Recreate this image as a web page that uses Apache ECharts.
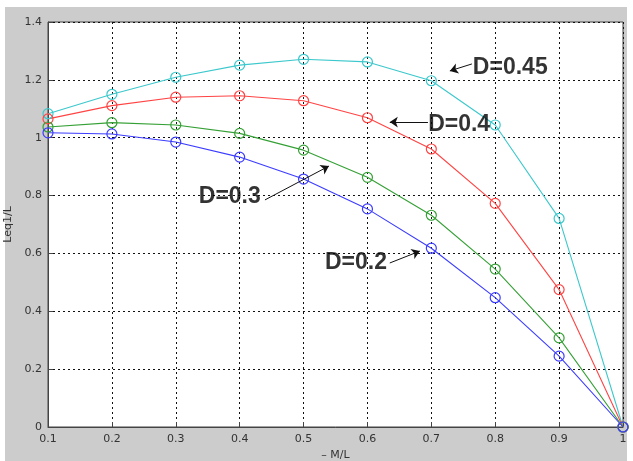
<!DOCTYPE html>
<html>
<head>
<meta charset="utf-8">
<script src="https://cdn.jsdelivr.net/npm/echarts@6/dist/echarts.min.js"></script>
<style>
html,body{margin:0;padding:0;background:#fff;}
#bg{position:absolute;left:5px;top:7px;width:622px;height:454px;background:#cccccc;}
#chart{position:absolute;left:0;top:0;width:633px;height:461px;}
</style>
</head>
<body>
<div id="bg"></div>
<div id="chart"></div>
<script>
const xValues = [0.1, 0.2, 0.3, 0.4, 0.5, 0.6, 0.7, 0.8, 0.9, 1.0];
const d045 = [1.083, 1.150, 1.209, 1.251, 1.271, 1.262, 1.197, 1.044, 0.721, 0.0];
const d040 = [1.065, 1.111, 1.140, 1.145, 1.128, 1.069, 0.961, 0.773, 0.475, 0.0];
const d030 = [1.037, 1.052, 1.044, 1.015, 0.957, 0.863, 0.732, 0.546, 0.308, 0.0];
const d020 = [1.017, 1.013, 0.985, 0.933, 0.857, 0.754, 0.618, 0.447, 0.245, 0.0];
const seriesNames = ['D=0.45', 'D=0.4', 'D=0.3', 'D=0.2'];
const seriesColors = ['#3cc8cc', '#ff4444', '#35a035', '#3c3cff'];
const yTickLabels = ['0', '0.2', '0.4', '0.6', '0.8', '1', '1.2', '1.4'];

// annotation text anchors (data space) and arrows (data space)
const labelPos = [[0.765, 1.241], [0.695, 1.044], [0.336, 0.795], [0.5335, 0.567]];
const arrows = [
  [[0.7635, 1.255], [0.729, 1.231]],
  [[0.6947, 1.054], [0.635, 1.054]],
  [[0.4396, 0.785], [0.5397, 0.902]],
  [[0.635, 0.567], [0.682, 0.608]]
];

const allData = [d045, d040, d030, d020];
const lineSeries = allData.map((arr, i) => ({
  name: seriesNames[i],
  type: 'line',
  data: xValues.map((x, j) => [x, arr[j]]),
  symbol: 'circle',
  symbolSize: 10,
  lineStyle: { color: seriesColors[i], width: 1.1 },
  itemStyle: { color: 'rgba(0,0,0,0)', borderColor: seriesColors[i], borderWidth: 1.2 },
  emphasis: { disabled: true },
  z: 3
}));

const annoSeries = {
  type: 'scatter',
  data: labelPos.map((p, i) => ({ value: p, name: seriesNames[i] })),
  symbolSize: 0,
  silent: true,
  label: {
    show: true,
    position: 'right',
    distance: 0,
    formatter: p => p.name,
    fontFamily: 'Liberation Sans, Arial, sans-serif',
    fontWeight: 'bold',
    fontSize: 23,
    color: '#000'
  },
  markLine: {
    silent: true,
    symbol: ['none', 'arrow'],
    symbolSize: 8,
    label: { show: false },
    lineStyle: { color: '#111', width: 1, type: 'solid' },
    data: arrows.map(a => [{ coord: a[0] }, { coord: a[1] }])
  },
  z: 5
};

const chart = echarts.init(document.getElementById('chart'));
chart.setOption({
  animation: false,
  backgroundColor: 'transparent',
  grid: {
    left: 48, top: 22, right: 10, bottom: 34,
    containLabel: false, outerBoundsMode: 'none',
    show: true, backgroundColor: '#ffffff', borderColor: '#444', borderWidth: 1
  },
  xAxis: {
    type: 'value', min: 0.1, max: 1, interval: 0.1,
    name: '– M/L', nameLocation: 'middle', nameGap: 22,
    nameTextStyle: { fontFamily: 'DejaVu Sans', fontSize: 11, color: '#333' },
    axisLine: { show: true, onZero: false, lineStyle: { color: '#444' } },
    axisTick: { show: true, inside: true, length: 5, lineStyle: { color: '#444' } },
    axisLabel: { fontFamily: 'DejaVu Sans', fontSize: 11, color: '#333', margin: 7,
      formatter: v => String(Math.round(v * 10) / 10) },
    splitLine: { show: true, lineStyle: { color: '#111', type: [2, 3], width: 1 } }
  },
  yAxis: {
    type: 'value', min: 0, max: 1.4, interval: 0.2,
    name: 'Leq1/L', nameLocation: 'middle', nameGap: 34, nameRotate: 90,
    nameTextStyle: { fontFamily: 'DejaVu Sans', fontSize: 11, color: '#333' },
    axisLine: { show: true, lineStyle: { color: '#444' } },
    axisTick: { show: true, inside: true, length: 5, lineStyle: { color: '#444' } },
    axisLabel: { fontFamily: 'DejaVu Sans', fontSize: 11, color: '#333', margin: 6,
      formatter: v => yTickLabels[Math.round(v / 0.2)] },
    splitLine: { show: true, lineStyle: { color: '#111', type: [2, 3], width: 1 } }
  },
  series: lineSeries.concat([annoSeries])
});
</script>
</body>
</html>
